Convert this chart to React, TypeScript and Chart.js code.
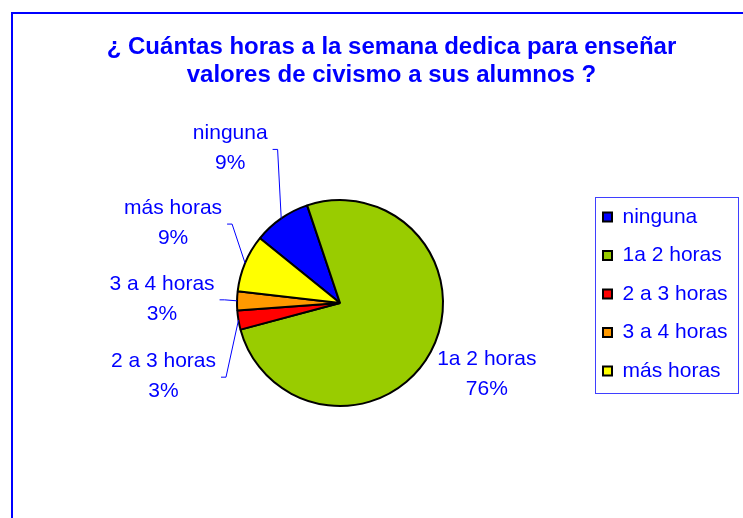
import { useEffect, useRef } from 'react';
import { Chart, registerables } from 'chart.js';

Chart.register(...registerables);

const TITLE_LINES = ['¿ Cuántas horas a la semana dedica para enseñar', 'valores de civismo a sus alumnos ?'];
const CATEGORIES = ['ninguna', '1a 2 horas', '2 a 3 horas', '3 a 4 horas', 'más horas'];
const PERCENTS = [9, 76, 3, 3, 9];
const COLORS = ['#0000ff', '#99cc00', '#ff0000', '#ff9900', '#ffff00'];

// layout of the data labels: offset (px) of label centre from the slice's outer mid point, and whether a leader line is drawn
const LABEL_NUDGE: [number, number, boolean][] = [
  [-51, -70, true],
  [56, 23, false],
  [-75, 56, true],
  [-75, -2, true],
  [-72, -40, true],
];

const FONT = '"Liberation Sans", Arial, sans-serif';
const BLUE = '#0000ff';
const LABEL_SIZE = 21;
const LABEL_LINE = 30;

const framePlugin = {
  id: 'frame',
  beforeDraw(chart: any) {
    const ctx = chart.ctx;
    ctx.save();
    ctx.fillStyle = '#ffffff';
    ctx.fillRect(0, 0, chart.width, chart.height);
    ctx.strokeStyle = BLUE;
    ctx.lineWidth = 2;
    ctx.beginPath();
    ctx.moveTo(12, chart.height + 2);
    ctx.lineTo(12, 13);
    ctx.lineTo(chart.width + 2, 13);
    ctx.stroke();
    ctx.restore();
  },
};

const legendBoxPlugin = {
  id: 'legendBox',
  afterDraw(chart: any) {
    const lg = chart.legend;
    if (!lg || !lg.legendHitBoxes || !lg.legendHitBoxes.length) return;
    const hb = lg.legendHitBoxes;
    const left = hb[0].left - 8;
    const top = hb[0].top - 10;
    const right = Math.max(...hb.map((h: any) => h.left + h.width)) + 10;
    const last = hb[hb.length - 1];
    const bottom = last.top + last.height + 11;
    const ctx = chart.ctx;
    ctx.save();
    ctx.strokeStyle = '#3f3fff';
    ctx.lineWidth = 1;
    ctx.strokeRect(Math.round(left) + 0.5, Math.round(top) + 0.5, Math.round(right - left), Math.round(bottom - top));
    ctx.restore();
  },
};

const sliceLabelPlugin = {
  id: 'sliceLabels',
  afterDatasetsDraw(chart: any) {
    const ctx = chart.ctx;
    const meta = chart.getDatasetMeta(0);
    ctx.save();
    ctx.font = `${LABEL_SIZE}px ${FONT}`;
    ctx.fillStyle = BLUE;
    ctx.strokeStyle = BLUE;
    ctx.lineWidth = 1;
    ctx.textAlign = 'center';
    ctx.textBaseline = 'middle';
    meta.data.forEach((arc: any, i: number) => {
      const { x, y, startAngle, endAngle, outerRadius } = arc.getProps(
        ['x', 'y', 'startAngle', 'endAngle', 'outerRadius'],
        true
      );
      const mid = (startAngle + endAngle) / 2;
      const ax = x + Math.cos(mid) * outerRadius;
      const ay = y + Math.sin(mid) * outerRadius;
      const [dx, dy, leader] = LABEL_NUDGE[i];
      const cx = ax + dx;
      const cy = ay + dy;
      const lines = [CATEGORIES[i], `${PERCENTS[i]}%`];
      lines.forEach((t, k) => ctx.fillText(t, cx, cy + (k - 0.5) * LABEL_LINE));
      if (leader) {
        const w = Math.max(...lines.map((t) => ctx.measureText(t).width));
        const sx = cx + w / 2 + 5;
        const sy = cy + 1;
        ctx.beginPath();
        ctx.moveTo(sx, sy);
        ctx.lineTo(sx + 5, sy);
        ctx.lineTo(ax, ay);
        ctx.stroke();
      }
    });
    ctx.restore();
  },
};

export default function App() {
  const ref = useRef<HTMLCanvasElement | null>(null);

  useEffect(() => {
    if (!ref.current) return;
    Chart.defaults.font.family = FONT;
    const chart = new Chart(ref.current, {
      type: 'pie',
      data: {
        labels: CATEGORIES,
        datasets: [
          {
            data: PERCENTS,
            backgroundColor: COLORS,
            borderColor: '#000000',
            borderWidth: 2,
          },
        ],
      },
      options: {
        responsive: false,
        animation: false,
        events: [],
        rotation: -51,
        radius: 103,
        layout: { padding: { top: 10, bottom: 119, left: 45.4, right: 5.4 } },
        plugins: {
          title: {
            display: true,
            text: TITLE_LINES,
            color: BLUE,
            font: { size: 24, weight: 'bold', family: FONT, lineHeight: 28 / 24 },
            padding: { top: 23, bottom: 118 },
          },
          subtitle: {
            display: true,
            position: 'left',
            text: ' ',
            font: { size: 12, lineHeight: 1.2 },
            padding: { top: 0, bottom: 34.7 },
          },
          legend: {
            display: true,
            position: 'right',
            align: 'end',
            fullSize: true,
            labels: {
              color: BLUE,
              font: { size: LABEL_SIZE, family: FONT },
              boxWidth: 9,
              boxHeight: 9,
              padding: 17.5,
            },
          },
          tooltip: { enabled: false },
        },
      },
      plugins: [framePlugin, sliceLabelPlugin, legendBoxPlugin],
    } as any);
    return () => chart.destroy();
  }, []);

  return (
    <div style={{ position: 'absolute', left: 0, top: 0, width: 743, height: 518 }}>
      <canvas ref={ref} width={743} height={518} style={{ display: 'block' }} />
    </div>
  );
}
